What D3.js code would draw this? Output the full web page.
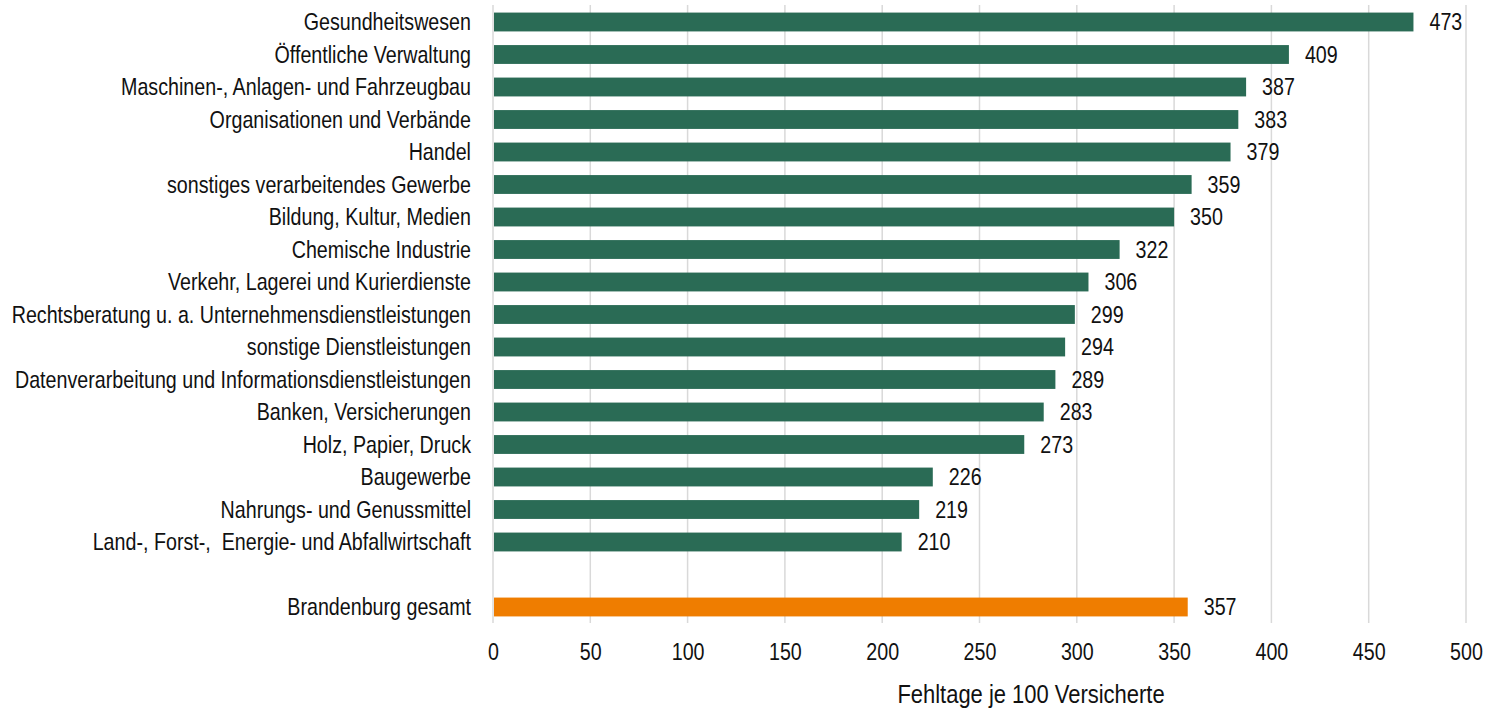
<!DOCTYPE html>
<html lang="de">
<head>
  <meta charset="utf-8">
  <title>Fehltage je 100 Versicherte</title>
  <script src="https://d3js.org/d3.v7.min.js" charset="utf-8"></script>
  <style>
    body { margin: 0; background: #fff; }
    svg text { font-family: "Liberation Sans", Arial, sans-serif; fill: #111; white-space: pre; }
  </style>
</head>
<body>
  <script type="text/javascript">
    // data
    var categories = [
      "Gesundheitswesen",
      "Öffentliche Verwaltung",
      "Maschinen-, Anlagen- und Fahrzeugbau",
      "Organisationen und Verbände",
      "Handel",
      "sonstiges verarbeitendes Gewerbe",
      "Bildung, Kultur, Medien",
      "Chemische Industrie",
      "Verkehr, Lagerei und Kurierdienste",
      "Rechtsberatung u. a. Unternehmensdienstleistungen",
      "sonstige Dienstleistungen",
      "Datenverarbeitung und Informationsdienstleistungen",
      "Banken, Versicherungen",
      "Holz, Papier, Druck",
      "Baugewerbe",
      "Nahrungs- und Genussmittel",
      "Land-, Forst-,  Energie- und Abfallwirtschaft"
    ];
    var values = [473, 409, 387, 383, 379, 359, 350, 322, 306, 299, 294, 289, 283, 273, 226, 219, 210];

    var totalLabel = "Brandenburg gesamt";
    var totalValue = 357;

    var xTicks = [0, 50, 100, 150, 200, 250, 300, 350, 400, 450, 500];
    var xTitle = "Fehltage je 100 Versicherte";

    // svg canvas
    var width = 1486
    var height = 709
    var narrow = 0.82   // no Arial Narrow installed, squeeze Liberation Sans instead

    var svg = d3.select("body")
                .append("svg")
                .attr("width", width)
                .attr("height", height);

    // rows: categories, one empty slot, then the total
    var rows = categories.map(function(c, i) { return {name: c, value: values[i], total: false}; });
    rows.push({name: "__gap", value: null, total: false});
    rows.push({name: totalLabel, value: totalValue, total: true});

    var x = d3.scaleLinear()
              .domain([0, 500])
              .range([493, 1466]);

    var y = d3.scaleBand()
              .domain(rows.map(d => d.name))
              .range([5.75, 623.25])
              .paddingInner(0.42)
              .paddingOuter(0.21);

    // gridlines
    svg.append("g")
       .selectAll("line")
       .data(xTicks)
       .join("line")
       .attr("x1", d => x(d))
       .attr("x2", d => x(d))
       .attr("y1", 5)
       .attr("y2", 623)
       .attr("stroke", "#d9d9d9")
       .attr("stroke-width", 1.5);

    var bars = rows.filter(d => d.value !== null);

    svg.append("g")
       .selectAll("rect")
       .data(bars)
       .join("rect")
       .attr("x", x(0) + 1)
       .attr("y", d => y(d.name))
       .attr("width", d => x(d.value) - x(0) - 1)
       .attr("height", y.bandwidth())
       .attr("fill", d => d.total ? "#ef7d00" : "#2a6b55");

    // value labels
    svg.append("g")
       .selectAll("text")
       .data(bars)
       .join("text")
       .attr("transform", d => "translate(" + (x(d.value) + 16) + "," + (y(d.name) + y.bandwidth() / 2) + ") scale(" + narrow + ",1)")
       .attr("dy", "0.35em")
       .attr("font-size", 24)
       .text(d => d.value);

    // category labels
    svg.append("g")
       .selectAll("text")
       .data(bars)
       .join("text")
       .attr("transform", d => "translate(471," + (y(d.name) + y.bandwidth() / 2) + ") scale(" + narrow + ",1)")
       .attr("dy", "0.35em")
       .attr("text-anchor", "end")
       .attr("font-size", 24)
       .text(d => d.name);

    // x axis
    var axis = svg.append("g")
                  .attr("transform", "translate(0, 652)")
                  .call(d3.axisBottom(x).tickValues(xTicks).tickSize(0).tickPadding(0));
    axis.select(".domain").remove();
    axis.selectAll("text")
        .attr("font-size", 24)
        .attr("dy", "0.35em")
        .attr("y", 0)
        .attr("transform", "scale(" + narrow + ",1)")
        .attr("fill", "#111")
        .style("font-family", null);

    svg.append("text")
       .attr("transform", "translate(1031,694) scale(0.845,1)")
       .attr("dy", "0.35em")
       .attr("text-anchor", "middle")
       .attr("font-size", 26)
       .text(xTitle);
  </script>
</body>
</html>
